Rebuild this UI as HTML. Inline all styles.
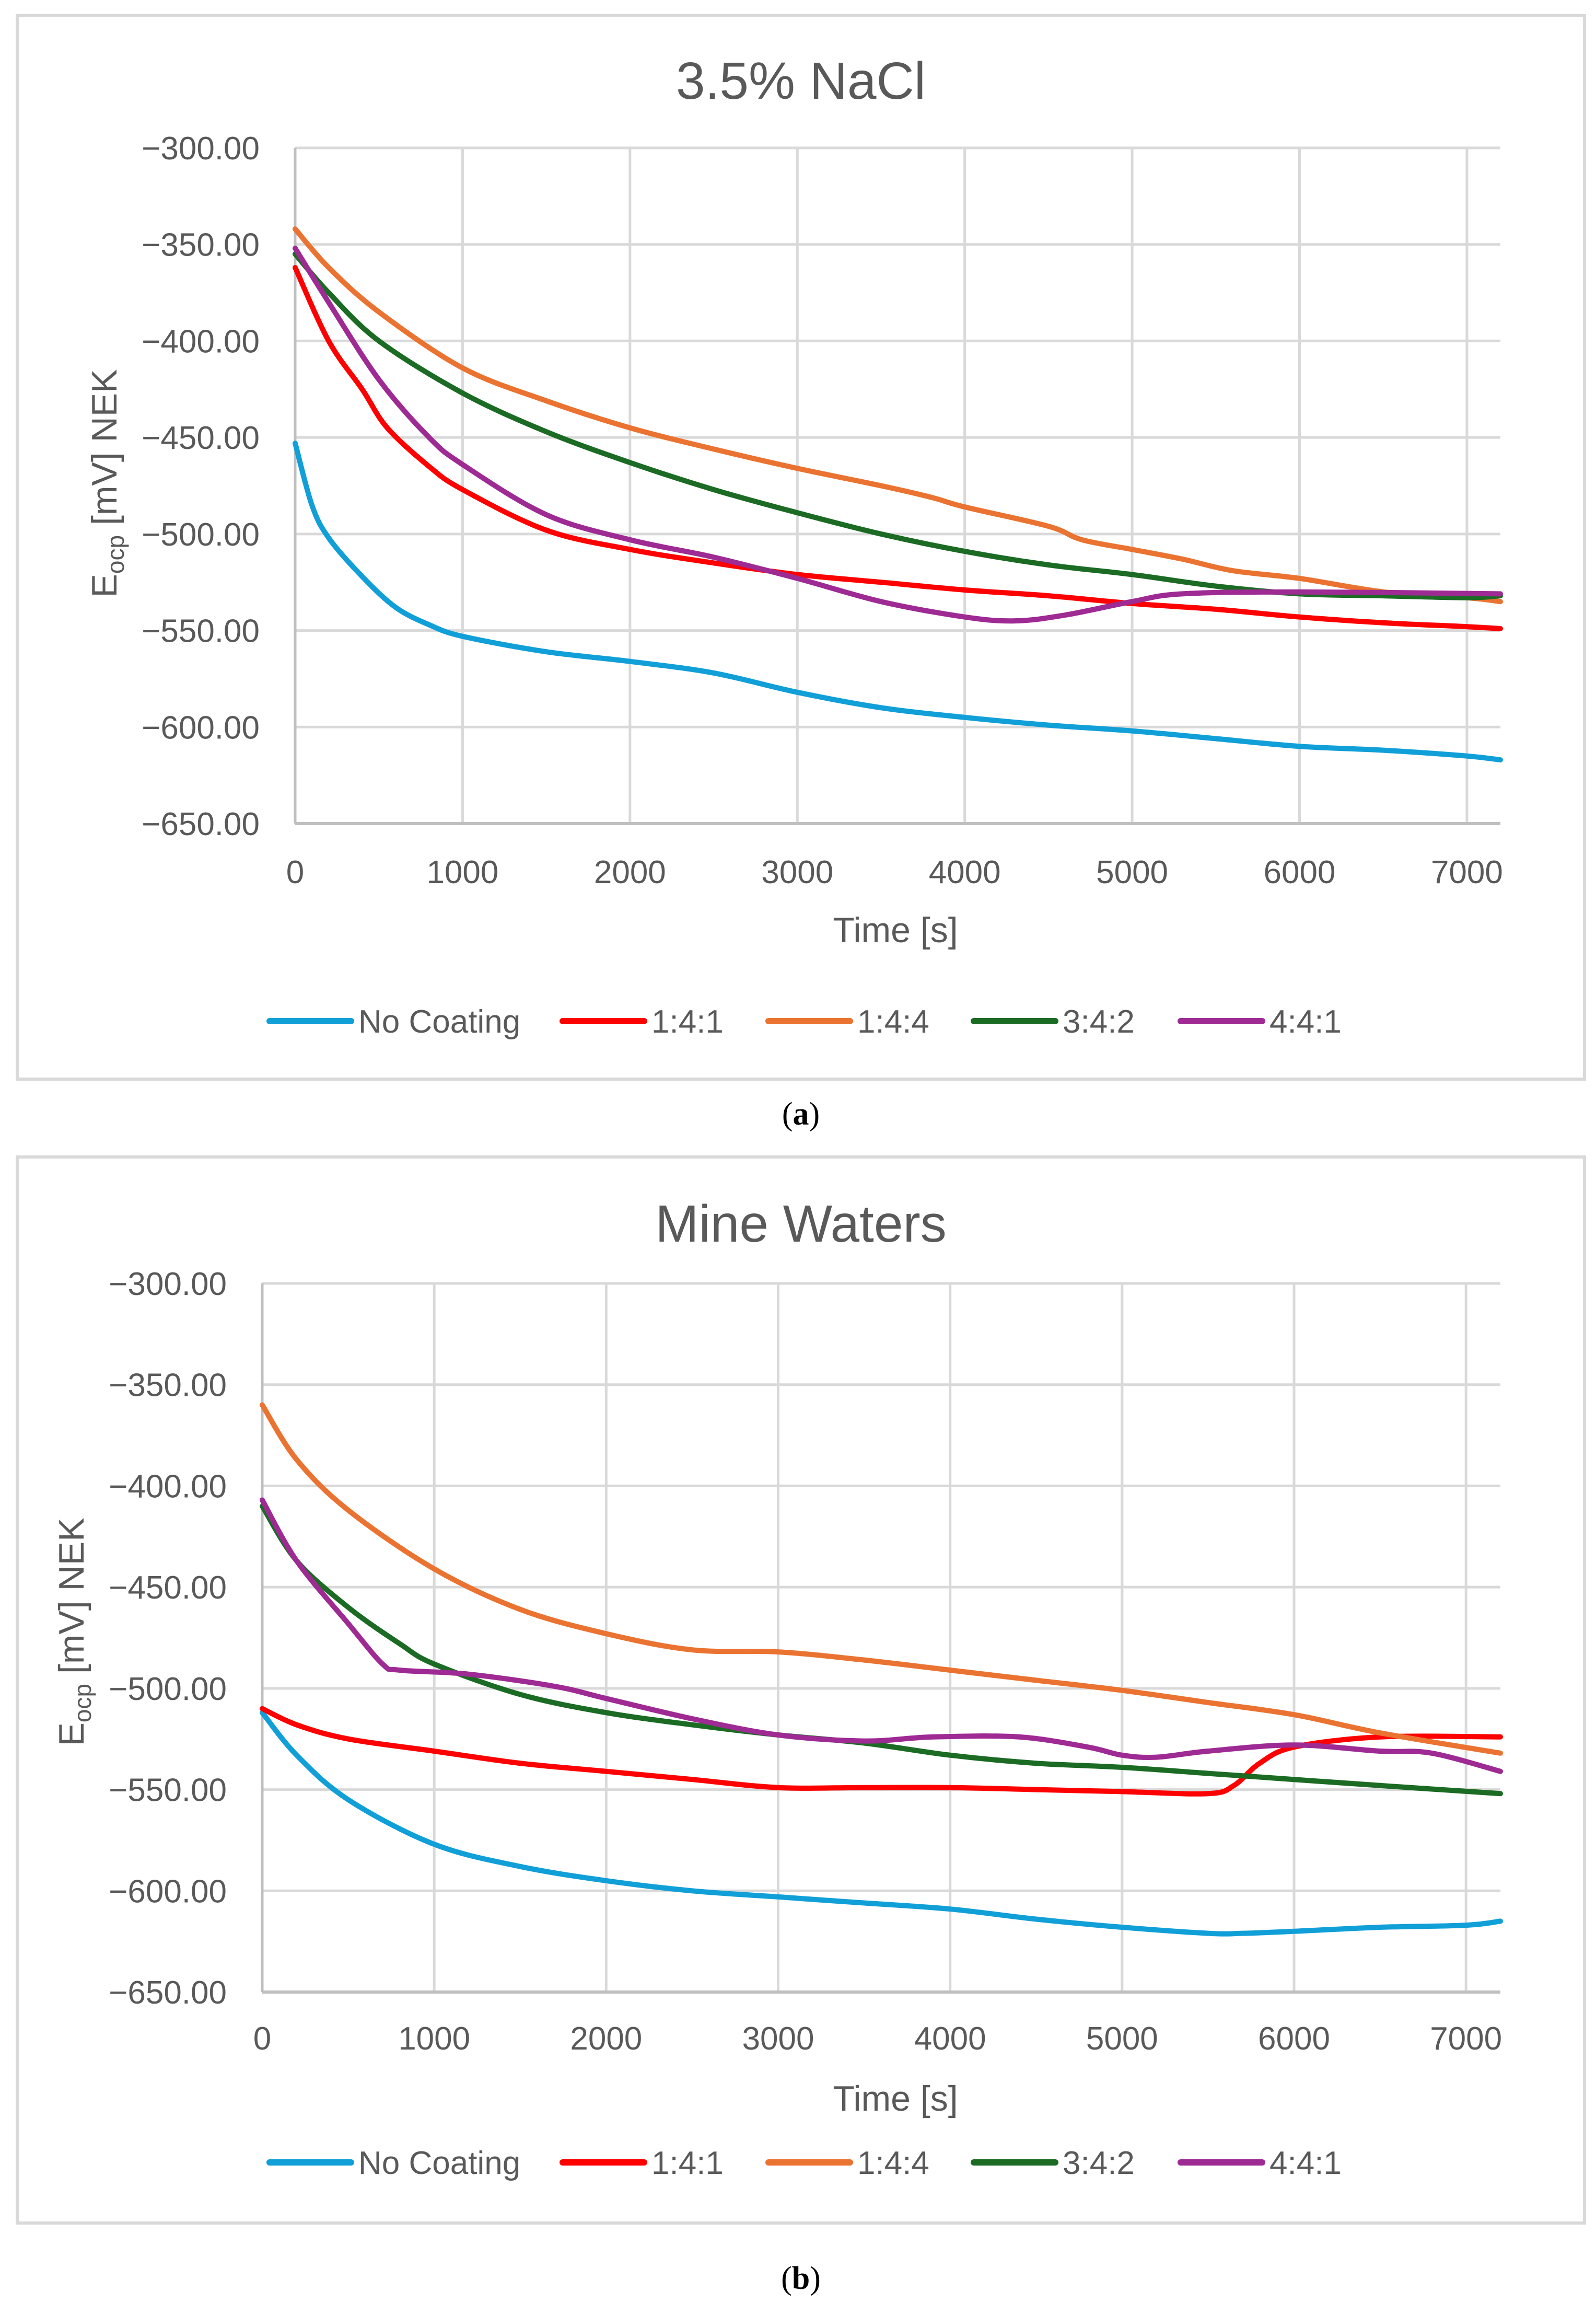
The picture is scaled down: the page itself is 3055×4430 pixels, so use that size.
<!DOCTYPE html>
<html><head><meta charset="utf-8">
<style>
html,body{margin:0;padding:0;background:#fff;}
svg{display:block;}
text{font-family:"Liberation Sans",sans-serif;fill:#595959;}
</style></head>
<body>
<svg id="root" width="3055" height="4430" viewBox="0 0 3055 4430" xmlns="http://www.w3.org/2000/svg">
<rect x="0" y="0" width="3055" height="4430" fill="#fff"/>
</svg>
<script>
// ---- Chart (a): 3.5% NaCl ----
const aNoCoatingX = [0,100,200,400,600,800,1000,1500,2000,2500,3000,3500,4000,4500,5000,5500,6000,6500,7000,7200];
const aNoCoatingY = [-453,-485,-502,-522,-538,-547,-553,-561,-566,-572,-582,-590,-595,-599,-602,-606,-610,-612,-615,-617];
const a141X = [0,200,400,550,800,1000,1500,2000,2500,3000,3500,4000,4500,5000,5500,6000,6500,7000,7200];
const a141Y = [-362,-400,-425,-445,-465,-477,-498,-508,-515,-521,-525,-529,-532,-536,-539,-543,-546,-548,-549];
const a144X = [0,200,500,1000,1500,2000,2500,3000,3500,3800,4000,4500,4700,5000,5300,5600,6000,6500,7000,7200];
const a144Y = [-342,-362,-385,-414,-431,-445,-456,-466,-475,-481,-486,-496,-503,-508,-513,-519,-523,-530,-533,-535];
const a342X = [0,200,500,1000,1500,2000,2500,3000,3500,4000,4500,5000,5500,6000,6500,7000,7200];
const a342Y = [-355,-375,-400,-427,-447,-463,-477,-489,-500,-509,-516,-521,-527,-531,-532,-533,-532];
const a441X = [0,200,500,800,1000,1500,2000,2500,3000,3500,4000,4300,4600,5000,5300,6000,7200];
const a441Y = [-352,-380,-420,-450,-464,-490,-503,-512,-523,-535,-543,-545,-542,-535,-531,-530,-531];
// ---- Chart (b): Mine Waters ----
const bNoCoatingX = [0,200,500,1000,1500,2000,2500,3000,3500,4000,4500,5000,5500,5700,6000,6500,7000,7200];
const bNoCoatingY = [-512,-533,-555,-577,-588,-595,-600,-603,-606,-609,-614,-618,-621,-621,-620,-618,-617,-615];
const b141X = [0,200,500,1000,1500,2000,2500,3000,3500,4000,4500,5000,5500,5650,5800,6000,6500,7200];
const b141Y = [-510,-518,-525,-531,-537,-541,-545,-549,-549,-549,-550,-551,-552,-548,-537,-529,-524,-524];
const b144X = [0,200,500,1000,1500,2000,2500,3000,3500,4000,4500,5000,5500,6000,6500,7200];
const b144Y = [-360,-387,-412,-441,-461,-473,-481,-482,-486,-491,-496,-501,-507,-513,-522,-532];
const b342X = [0,200,500,800,1000,1500,2000,2500,3000,3500,4000,4500,5000,5500,6000,6500,7200];
const b342Y = [-410,-437,-460,-478,-488,-503,-512,-518,-523,-527,-533,-537,-539,-542,-545,-548,-552];
const b441X = [0,200,500,700,800,1200,1700,2000,2500,3000,3500,3900,4400,4800,5000,5200,5500,6000,6500,6800,7200];
const b441Y = [-407,-437,-468,-488,-491,-493,-499,-505,-515,-523,-526,-524,-524,-529,-533,-534,-531,-528,-531,-532,-541];

const xTicks = [0,1000,2000,3000,4000,5000,6000,7000];
const yTicks = [-300,-350,-400,-450,-500,-550,-600,-650];
const seriesNames = ["No Coating","1:4:1","1:4:4","3:4:2","4:4:1"];
const colors = ["#119fd8","#ff0000","#eb7331","#1b6b24","#9e2a94"];

const NS = "http://www.w3.org/2000/svg";
const root = document.getElementById('root');
function mk(tag, attrs, parent){
  const e = document.createElementNS(NS, tag);
  for (const k in attrs) e.setAttribute(k, attrs[k]);
  (parent||root).appendChild(e);
  return e;
}

function drawChart(cfg){
  const g = mk('g', {});
  
  
  const border = mk('rect', {x:cfg.bx, y:cfg.by, width:cfg.bw, height:cfg.bh, fill:'none', stroke:'#d9d9d9', 'stroke-width':6}, g);
  
  
  const sx = v => cfg.x0 + (v - 0) / 7200 * (cfg.x1 - cfg.x0);
  const sy = v => cfg.y0 + (-300 - v) / 350 * (cfg.y1 - cfg.y0);
  const title = mk('text', {x:1533, y:cfg.titleY, 'text-anchor':'middle', 'font-size':100}, g);
  title.textContent = cfg.title;
  
  
  // gridlines
  yTicks.forEach(t => {
    if (t === -650) return;
    const l = mk('line', {x1:cfg.x0, x2:cfg.x1, y1:sy(t), y2:sy(t), stroke:'#d9d9d9', 'stroke-width':5}, g);
    
    
  });
  xTicks.forEach(t => {
    if (t === 0) return;
    const l = mk('line', {x1:sx(t), x2:sx(t), y1:cfg.y0, y2:cfg.y1, stroke:'#d9d9d9', 'stroke-width':5}, g);
    
    
  });
  const ax = mk('line', {x1:cfg.x0, x2:cfg.x0, y1:cfg.y0, y2:cfg.y1, stroke:'#bfbfbf', 'stroke-width':5}, g);
  
  
  const bx = mk('line', {x1:cfg.x0, x2:cfg.x1, y1:cfg.y1, y2:cfg.y1, stroke:'#bfbfbf', 'stroke-width':6}, g);
  
  
  // tick labels
  yTicks.forEach(t => {
    const tx = mk('text', {x:cfg.yLabelRight, y:sy(t)+22, 'text-anchor':'end', 'font-size':62}, g);
    tx.textContent = '\u2212' + Math.abs(t).toFixed(2);
    
    
  });
  xTicks.forEach(t => {
    const tx = mk('text', {x:sx(t), y:cfg.xLabelY, 'text-anchor':'middle', 'font-size':62}, g);
    tx.textContent = String(t);
    
    
  });
  const xt = mk('text', {x:1714, y:cfg.xTitleY, 'text-anchor':'middle', 'font-size':68}, g);
  xt.textContent = 'Time [s]';
  
  
  const yt = mk('text', {x:0, y:0, 'text-anchor':'middle', 'font-size':68, transform:'translate('+(cfg.yTitleX+24)+','+cfg.yTitleCY+') rotate(-90)'}, g);
  
  
  const t1 = mk('tspan', {}, yt); t1.textContent = 'E';
  const t2 = mk('tspan', {'font-size':46, dy:14}, yt); t2.textContent = 'ocp';
  const t3 = mk('tspan', {dy:-14}, yt); t3.textContent = ' [mV] NEK';
  // series
  cfg.series.forEach((s, i) => {
    const xs = s[0], ys = s[1];
    let d = '';
    for (let k = 0; k < xs.length; k++) {
      const px = sx(xs[k]), py = sy(ys[k]);
      if (k === 0) { d += 'M' + px.toFixed(1) + ' ' + py.toFixed(1); continue; }
      const p0x = sx(xs[Math.max(k-2,0)]), p0y = sy(ys[Math.max(k-2,0)]);
      const p1x = sx(xs[k-1]), p1y = sy(ys[k-1]);
      const p3x = sx(xs[Math.min(k+1,xs.length-1)]), p3y = sy(ys[Math.min(k+1,xs.length-1)]);
      const c1x = p1x + (px - p0x)/6, c1y = p1y + (py - p0y)/6;
      const c2x = px - (p3x - p1x)/6, c2y = py - (p3y - p1y)/6;
      d += ' C' + c1x.toFixed(1)+' '+c1y.toFixed(1)+' '+c2x.toFixed(1)+' '+c2y.toFixed(1)+' '+px.toFixed(1)+' '+py.toFixed(1);
    }
    const p = mk('path', {d:d, fill:'none', stroke:colors[i], 'stroke-width':10, 'stroke-linecap':'round', 'stroke-linejoin':'round'}, g);
    
    
  });
  // legend
  const lx = [516,1077,1471,1864,2260];
  seriesNames.forEach((n, i) => {
    const l = mk('line', {x1:lx[i], x2:lx[i]+156, y1:cfg.legendY, y2:cfg.legendY, stroke:colors[i], 'stroke-width':12, 'stroke-linecap':'round'}, g);
    
    
    const tx = mk('text', {x:lx[i]+170, y:cfg.legendY+22, 'font-size':62}, g);
    tx.textContent = n;
    
    
  });
  const cap = mk('text', {x:1533, y:cfg.capY, 'text-anchor':'middle', 'font-size':62, style:'font-family:"Liberation Serif",serif;fill:#000'}, g);
  
  
  const c1 = mk('tspan', {}, cap); c1.textContent = '(';
  const c2 = mk('tspan', {'font-weight':'bold'}, cap); c2.textContent = cfg.cap;
  const c3 = mk('tspan', {}, cap); c3.textContent = ')';
}

drawChart({name:'chart-nacl', title:'3.5% NaCl', cap:'a', bx:33, by:30, bw:3000, bh:2035,
  x0:565, x1:2872, y0:283, y1:1576, titleY:189, yLabelRight:497, xLabelY:1690, xTitleY:1803,
  yTitleX:199, yTitleCY:925, legendY:1954, capY:2152,
  series:[[aNoCoatingX,aNoCoatingY],[a141X,a141Y],[a144X,a144Y],[a342X,a342Y],[a441X,a441Y]]});
drawChart({name:'chart-mine-waters', title:'Mine Waters', cap:'b', bx:33, by:2214, bw:3000, bh:2040,
  x0:502, x1:2872, y0:2456, y1:3812, titleY:2376, yLabelRight:434, xLabelY:3922, xTitleY:4039,
  yTitleX:136, yTitleCY:3123, legendY:4138, capY:4380,
  series:[[bNoCoatingX,bNoCoatingY],[b141X,b141Y],[b144X,b144Y],[b342X,b342Y],[b441X,b441Y]]});
</script>
</body></html>
